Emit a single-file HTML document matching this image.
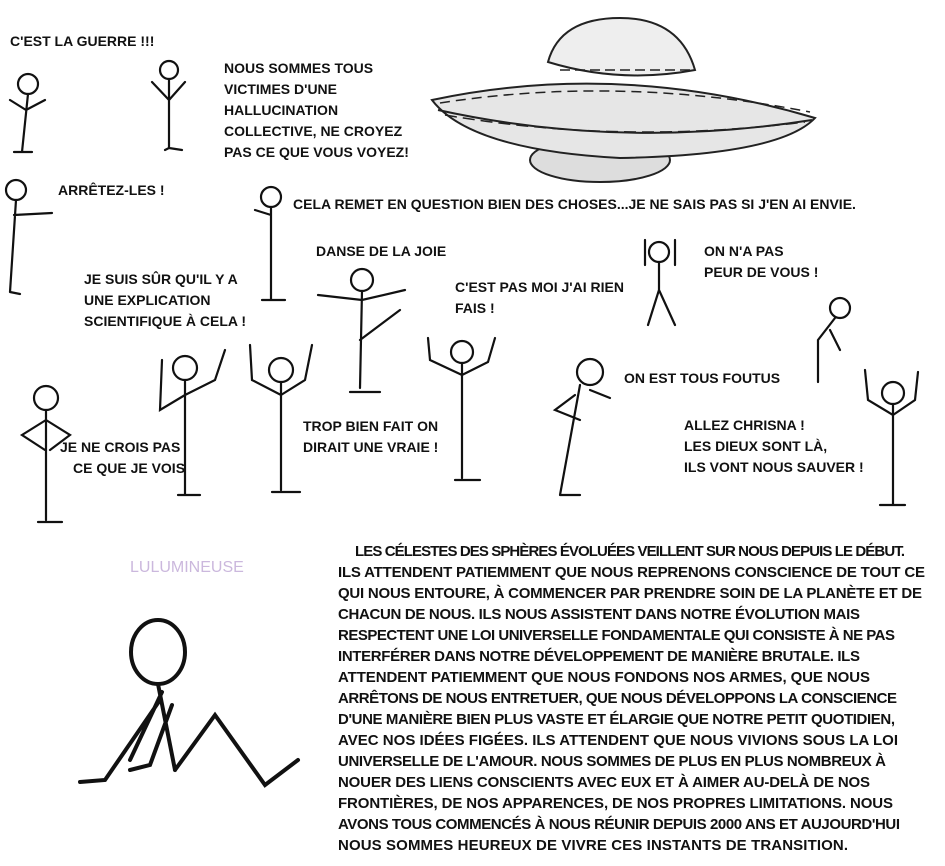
<!DOCTYPE html>
<html><head><meta charset="utf-8"><style>
html,body{margin:0;padding:0;background:#fff;}
svg{display:block}
text{font-family:"Liberation Sans",sans-serif;font-weight:bold;fill:#111;font-size:14px}
.p{font-size:15px}
.f{stroke:#111;stroke-width:2.2;fill:none;stroke-linecap:round}
</style></head><body>
<svg width="945" height="866" viewBox="0 0 945 866" xmlns="http://www.w3.org/2000/svg">
<!-- UFO -->
<g stroke="#222" stroke-width="2" fill="#fff">
<ellipse cx="600" cy="160" rx="70" ry="22" fill="#ddd"/>
<path d="M432 100 Q620 60 815 118 Q780 155 620 158 Q470 150 432 100Z" fill="#e6e6e6"/>
<path d="M548 62 Q560 18 620 18 Q680 18 695 70 Q620 84 548 62Z" fill="#eee"/>
<path d="M438 110 Q620 150 812 120" fill="none"/>
</g>
<g fill="none" stroke="#222" stroke-width="1.5">
<path d="M560 58 h130" stroke-dasharray="10 5" transform="translate(0,12)"/>
<path d="M445 115 Q620 145 805 122" stroke-dasharray="12 6"/>
<path d="M440 103 Q620 75 810 112" stroke-dasharray="10 6"/>
</g>
<!-- labels -->
<text x="10" y="46">C'EST LA GUERRE !!!</text>
<text x="224" y="73">NOUS SOMMES TOUS</text>
<text x="224" y="94">VICTIMES D'UNE</text>
<text x="224" y="115">HALLUCINATION</text>
<text x="224" y="136">COLLECTIVE, NE CROYEZ</text>
<text x="224" y="157">PAS CE QUE VOUS VOYEZ!</text>
<text x="58" y="195">ARRÊTEZ-LES !</text>
<text x="293" y="209">CELA REMET EN QUESTION BIEN DES CHOSES...JE NE SAIS PAS SI J'EN AI ENVIE.</text>
<text x="316" y="256">DANSE DE LA JOIE</text>
<text x="704" y="256">ON N'A PAS</text>
<text x="704" y="277">PEUR DE VOUS !</text>
<text x="84" y="284">JE SUIS SÛR QU'IL Y A</text>
<text x="84" y="305">UNE EXPLICATION</text>
<text x="84" y="326">SCIENTIFIQUE À CELA !</text>
<text x="455" y="292">C'EST PAS MOI J'AI RIEN</text>
<text x="455" y="313">FAIS !</text>
<text x="624" y="383">ON EST TOUS FOUTUS</text>
<text x="303" y="431">TROP BIEN FAIT ON</text>
<text x="303" y="452">DIRAIT UNE VRAIE !</text>
<text x="684" y="430">ALLEZ CHRISNA !</text>
<text x="684" y="451">LES DIEUX SONT LÀ,</text>
<text x="684" y="472">ILS VONT NOUS SAUVER !</text>
<text x="60" y="452">JE NE CROIS PAS</text>
<text x="73" y="473">CE QUE JE VOIS</text>
<text x="130" y="572" style="font-weight:normal;fill:#cbb8dd;font-size:16px">LULUMINEUSE</text>
<!-- stick figures -->
<g class="f">
<circle cx="28" cy="84" r="10"/><path d="M28 94 L22 152 M22 152 L14 152 M22 152 L32 152 M26 110 L45 100 M26 110 L10 100"/>
<circle cx="169" cy="70" r="9"/><path d="M169 79 V148 M169 100 L152 82 M169 100 L185 82 M169 148 L165 150 M169 148 L182 150"/>
<circle cx="16" cy="190" r="10"/><path d="M16 200 L10 292 M14 215 L52 213 M10 292 L20 294"/>
<circle cx="271" cy="197" r="10"/><path d="M271 207 V300 M271 215 L255 210 M262 300 L285 300"/>
<circle cx="362" cy="280" r="11"/><path d="M362 291 L360 388 M318 295 L362 300 L405 290 M360 340 L400 310 M350 392 H380"/>
<circle cx="659" cy="252" r="10"/><path d="M659 262 V290 L648 325 M659 290 L675 325 M645 240 L645 265 M675 240 L675 265"/>
<circle cx="840" cy="308" r="10"/><path d="M835 318 L818 340 V382 M830 330 L840 350"/>
<circle cx="185" cy="368" r="12"/><path d="M185 380 V495 M185 395 L160 410 L162 360 M185 395 L215 380 L225 350 M178 495 H200"/>
<circle cx="281" cy="370" r="12"/><path d="M281 382 V490 M281 395 L252 380 L250 345 M281 395 L305 380 L312 345 M272 492 H300"/>
<circle cx="462" cy="352" r="11"/><path d="M462 363 V478 M462 375 L430 360 L428 338 M462 375 L488 362 L495 338 M455 480 H480"/>
<circle cx="590" cy="372" r="13"/><path d="M580 385 L560 495 M575 395 L555 410 L580 420 M590 390 L610 398 M560 495 H580"/>
<circle cx="46" cy="398" r="12"/><path d="M46 410 V520 M46 420 L22 435 L45 450 M46 420 L70 435 L50 450 M38 522 H62"/>
<circle cx="893" cy="393" r="11"/><path d="M893 404 V505 M893 415 L868 400 L865 370 M893 415 L915 400 L918 372 M880 505 H905"/>
<ellipse cx="158" cy="652" rx="27" ry="32" stroke-width="4"/>
<path stroke-width="4" d="M158 684 L175 770 M162 692 L130 760 M160 700 L105 780 L80 782 M175 770 L215 715 L265 785 L298 760 M172 705 L150 765 L130 770"/>
</g>
<!-- paragraph -->
<g class="p">
<text class="p" x="355" y="556" textLength="550">LES CÉLESTES DES SPHÈRES ÉVOLUÉES VEILLENT SUR NOUS DEPUIS LE DÉBUT.</text>
<text class="p" x="338" y="577" textLength="587">ILS ATTENDENT PATIEMMENT QUE NOUS REPRENONS CONSCIENCE DE TOUT CE</text>
<text class="p" x="338" y="598" textLength="584">QUI NOUS ENTOURE, À COMMENCER PAR PRENDRE SOIN DE LA PLANÈTE ET DE</text>
<text class="p" x="338" y="619" textLength="522">CHACUN DE NOUS. ILS NOUS ASSISTENT DANS NOTRE ÉVOLUTION MAIS</text>
<text class="p" x="338" y="640" textLength="557">RESPECTENT UNE LOI UNIVERSELLE FONDAMENTALE QUI CONSISTE À NE PAS</text>
<text class="p" x="338" y="661" textLength="522">INTERFÉRER DANS NOTRE DÉVELOPPEMENT DE MANIÈRE BRUTALE. ILS</text>
<text class="p" x="338" y="682" textLength="532">ATTENDENT PATIEMMENT QUE NOUS FONDONS NOS ARMES, QUE NOUS</text>
<text class="p" x="338" y="703" textLength="559">ARRÊTONS DE NOUS ENTRETUER, QUE NOUS DÉVELOPPONS LA CONSCIENCE</text>
<text class="p" x="338" y="724" textLength="557">D'UNE MANIÈRE BIEN PLUS VASTE ET ÉLARGIE QUE NOTRE PETIT QUOTIDIEN,</text>
<text class="p" x="338" y="745" textLength="560">AVEC NOS IDÉES FIGÉES. ILS ATTENDENT QUE NOUS VIVIONS SOUS LA LOI</text>
<text class="p" x="338" y="766" textLength="548">UNIVERSELLE DE L'AMOUR. NOUS SOMMES DE PLUS EN PLUS NOMBREUX À</text>
<text class="p" x="338" y="787" textLength="532">NOUER DES LIENS CONSCIENTS AVEC EUX ET À AIMER AU-DELÀ DE NOS</text>
<text class="p" x="338" y="808" textLength="555">FRONTIÈRES, DE NOS APPARENCES, DE NOS PROPRES LIMITATIONS. NOUS</text>
<text class="p" x="338" y="829" textLength="562">AVONS TOUS COMMENCÉS À NOUS RÉUNIR DEPUIS 2000 ANS ET AUJOURD'HUI</text>
<text class="p" x="338" y="850" textLength="510">NOUS SOMMES HEUREUX DE VIVRE CES INSTANTS DE TRANSITION.</text>
</g>
</svg>
</body></html>
